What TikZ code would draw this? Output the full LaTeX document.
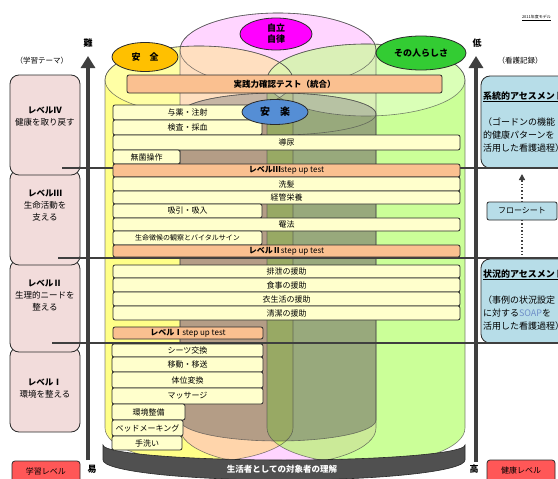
\documentclass[tikz,border=0pt]{standalone}
\usepackage{fontspec}
\setmainfont{Noto Sans CJK JP}
\usetikzlibrary{arrows.meta,shapes.geometric}
\definecolor{lineC}{HTML}{2A2A2A}
\definecolor{arrowC}{HTML}{3F3F3F}
\definecolor{rowC}{HTML}{FFFFCC}
\definecolor{stepC}{HTML}{FAC090}
\definecolor{lpinkC}{HTML}{F2DCDB}
\definecolor{blueC}{HTML}{B7DDE8}
\definecolor{redC}{HTML}{FF5757}
\definecolor{cyYel}{HTML}{FFFF88}
\definecolor{cyPink}{HTML}{FF77FF}
\definecolor{cyGreen}{HTML}{99FF33}
\definecolor{cyGrey}{HTML}{5A5A5A}
\definecolor{cylLine}{HTML}{4A4A4A}
\definecolor{tagY}{HTML}{FFC000}
\definecolor{tagM}{HTML}{FF00FF}
\definecolor{tagG}{HTML}{33CC33}
\definecolor{tagB}{HTML}{558ED5}
\definecolor{baseC}{HTML}{505050}
\definecolor{soapC}{HTML}{6F8FC8}
\newcommand{\mycyl}[6]{\path[#6] (#1-#2,#3) -- (#1-#2,#4) arc[start angle=180,end angle=0,x radius=#2,y radius=#5] -- (#1+#2,#3) arc[start angle=0,end angle=-180,x radius=#2,y radius=#5] -- cycle;}
\newcommand{\rb}[7]{\node[#1, anchor=north west, minimum width={#4-#2}, minimum height={#5-#3}] (#6) at (#2,#3) {#7};}
\begin{document}
\begin{tikzpicture}[x=1pt,y=1pt,yscale=-1,
  every node/.style={inner sep=0pt, outer sep=0pt},
  rowbox/.style={draw=lineC, fill=rowC, rounded corners=2pt, line width=0.8pt, font=\fontsize{8}{9}\selectfont},
  stepbox/.style={rowbox, fill=stepC},
  lbox/.style={draw=lineC, fill=lpinkC, rounded corners=9pt, line width=0.8pt},
  ltext/.style={align=center, font=\fontsize{8.5}{12}\selectfont},
  rbox/.style={draw=lineC, fill=blueC, rounded corners=9pt, line width=0.8pt},
  rtext/.style={anchor=west, font=\fontsize{9}{11}\selectfont},
  redbox/.style={draw=lineC, fill=redC, rounded corners=3pt, line width=0.8pt},
  bigarrow/.style={line width=4pt, draw=arrowC, -{Triangle[width=14pt,length=12pt]}},
  hline/.style={line width=1.4pt, draw=arrowC},
  cylout/.style={draw=cylLine, line width=0.6pt, draw opacity=0.7},
  tag/.style={ellipse, draw=lineC, line width=0.8pt, font=\bfseries\fontsize{9}{11}\selectfont},
  hd/.style={font=\bfseries\fontsize{9}{10}\selectfont},
]
\useasboundingbox (0,0) rectangle (558,479);
\clip (0,0) rectangle (558,479);
\fill[white] (0,0) rectangle (558,479);

% cylinders
\mycyl{199}{94}{80}{428}{34}{fill=cyYel}
\mycyl{278}{98}{50}{428}{37}{fill=cyPink,fill opacity=0.3}
\mycyl{366}{99}{80}{428}{36}{fill=cyGreen,fill opacity=0.5}
\mycyl{278}{98}{114}{420}{21}{fill=cyGrey,fill opacity=0.45}
\fill[white, fill opacity=0.3] (366,80) ellipse [x radius=99,y radius=36];
\fill[white, fill opacity=0.25] (199,80) ellipse [x radius=94,y radius=34];
\mycyl{199}{94}{80}{428}{34}{cylout}
\mycyl{278}{98}{50}{428}{37}{cylout}
\mycyl{366}{99}{80}{428}{36}{cylout}
\mycyl{278}{98}{114}{420}{21}{cylout}
\draw[cylout] (199,80) ellipse [x radius=94,y radius=34];
\draw[cylout] (278,50) ellipse [x radius=98,y radius=37];
\draw[cylout] (366,80) ellipse [x radius=99,y radius=36];
\draw[cylout] (278,114) ellipse [x radius=98,y radius=21];

% base
\path[fill=baseC, draw=lineC, line width=0.6pt] (103,445) arc[start angle=180,end angle=0,x radius=181,y radius=15] -- (465,460) arc[start angle=0,end angle=180,x radius=181,y radius=20] -- cycle;
\node[text=white, font=\bfseries\fontsize{8.5}{10}\selectfont] (basetxt) at (282,469) {生活者としての対象者の理解};

% left column
\rb{lbox}{10}{347}{80}{432}{lb1}{}
\rb{lbox}{10}{260}{80}{352}{lb2}{}
\rb{lbox}{10}{170}{80}{265}{lb3}{}
\rb{lbox}{10}{75}{80}{175}{lb4}{}
\node[ltext] (lt4) at (45,117) {\textbf{レベルⅣ}\\健康を取り戻す};
\node[ltext] (lt3) at (45,206) {\textbf{レベルⅢ}\\生命活動を\\支える};
\node[ltext] (lt2) at (45,295) {\textbf{レベルⅡ}\\生理的ニードを\\整える};
\node[ltext] (lt1) at (45,389) {\textbf{レベルⅠ}\\環境を整える};
\node[font=\fontsize{7.5}{9}\selectfont] (lhead) at (42,61) {（学習テーマ）};
\rb{redbox}{12}{461}{80}{485}{lvlbox}{}
\node[font=\fontsize{8}{9}\selectfont] (lvltxt) at (46,471) {学習レベル};

% right column
\rb{rbox}{481}{76}{600}{168}{rb1}{}
\rb{rbox}{481}{259}{600}{343}{rb2}{}
\node[rtext] (rb1t) at (483,97) {\underline{\textbf{系統的アセスメント}}};
\node[rtext] (rb1a) at (483,122) {（ゴードンの機能};
\node[rtext] (rb1b) at (483,135) {的健康パターンを};
\node[rtext] (rb1c) at (483,148) {活用した看護過程）};
\node[rtext] (rb2t) at (483,275) {\underline{\textbf{状況的アセスメント}}};
\node[rtext] (rb2a) at (483,300) {（事例の状況設定};
\node[rtext] (rb2b) at (483,313) {に対する\textcolor{soapC}{SOAP}を};
\node[rtext] (rb2c) at (483,326) {活用した看護過程）};
\node[font=\fontsize{7.5}{9}\selectfont] (rhead) at (520,61) {（看護記録）};
\node[draw=lineC, fill=blueC, line width=0.8pt, rounded corners=2pt, minimum width=70, minimum height=18, font=\fontsize{8}{9}\selectfont] (flow) at (522,211) {フローシート};
\coordinate (dtop) at (522,174);
\coordinate (dbot) at (522,259);
\draw[line width=1.4pt, dotted, draw=arrowC, -{Triangle[width=6pt,length=6pt]}] (flow.north) -- (dtop);
\draw[line width=1.4pt, dotted, draw=arrowC] (flow.south) -- (dbot);
\rb{redbox}{487}{460}{555}{485}{kenbox}{}
\node[font=\fontsize{8}{9}\selectfont] (kentxt) at (521,470) {健康レベル};
\node[anchor=west, font=\fontsize{4}{5}\selectfont] (model) at (522,18) {\underline{2011年度モデル}};

% level lines
\coordinate (h1a) at (62,168); \coordinate (h1b) at (558,168);
\coordinate (h2a) at (58,258); \coordinate (h2b) at (558,258);
\coordinate (h3a) at (52,343); \coordinate (h3b) at (558,343);
\draw[hline] (h1a) -- (h1b);
\draw[hline] (h2a) -- (h2b);
\draw[hline] (h3a) -- (h3b);

% arrows
\coordinate (la0) at (88,460); \coordinate (la1) at (88,56);
\coordinate (ra0) at (476,462); \coordinate (ra1) at (476,56);
\draw[bigarrow] (la0) -- (la1);
\draw[bigarrow] (ra0) -- (ra1);
\node[hd] (nan) at (88,43) {難};
\node[hd] (eki) at (92,469) {易};
\node[hd] (tei) at (477,43) {低};
\node[hd] (kou) at (474,469) {高};

% integrated test
\rb{stepbox}{127}{75}{442}{93}{jissen}{\bfseries\fontsize{8.5}{10}\selectfont 実践力確認テスト（統合）}

% rows
\rb{rowbox}{113}{105}{262}{120}{r1}{与薬・注射}
\rb{rowbox}{113}{120}{262}{135}{r2}{検査・採血}
\rb{rowbox}{113}{135}{460}{150}{r3}{導尿}
\rb{rowbox}{113}{150}{180}{164}{r4}{無菌操作}
\rb{stepbox}{113}{164}{460}{177}{s3}{\textbf{レベルⅢ}step up test}
\rb{rowbox}{113}{177}{460}{191}{r5}{洗髪}
\rb{rowbox}{113}{191}{460}{204}{r6}{経管栄養}
\rb{rowbox}{113}{204}{262}{218}{r7}{吸引・吸入}
\rb{rowbox}{113}{218}{460}{231}{r8}{罨法}
\rb{rowbox, font=\fontsize{7}{8}\selectfont}{113}{231}{262}{245}{r9}{生命徴候の観察とバイタルサイン}
\rb{stepbox}{113}{245}{460}{257}{s2}{\textbf{レベルⅡ}step up test}
\rb{rowbox}{113}{265}{460}{278}{r10}{排泄の援助}
\rb{rowbox}{113}{278}{460}{292}{r11}{食事の援助}
\rb{rowbox}{113}{292}{460}{306}{r12}{衣生活の援助}
\rb{rowbox}{113}{306}{460}{320}{r13}{清潔の援助}
\rb{stepbox}{113}{327}{263}{339}{s1}{\textbf{レベルⅠ}step up test}
\rb{rowbox}{112}{344}{263}{357}{r14}{シーツ交換}
\rb{rowbox}{112}{357}{263}{372}{r15}{移動・移送}
\rb{rowbox}{112}{372}{263}{388}{r16}{体位変換}
\rb{rowbox}{112}{388}{263}{404}{r17}{マッサージ}
\rb{rowbox}{112}{404}{185}{420}{r18}{環境整備}
\rb{rowbox}{112}{420}{183}{436}{r19}{ベッドメーキング}
\rb{rowbox}{112}{436}{182}{450}{r20}{手洗い}

% tags
\node[tag, fill=tagY, minimum width=66, minimum height=29] (anzen) at (145,57) {安　全};
\node[tag, fill=tagM, minimum width=72, minimum height=32, align=center] (jiritsu) at (276,34) {自立\\自律};
\node[tag, fill=tagG, minimum width=90, minimum height=34] (sonohito) at (421,53) {その人らしさ};
\node[tag, fill=tagB, minimum width=66, minimum height=25, font=\bfseries\fontsize{10}{12}\selectfont] (anraku) at (275,112) {安　楽};
\end{tikzpicture}
\end{document}
